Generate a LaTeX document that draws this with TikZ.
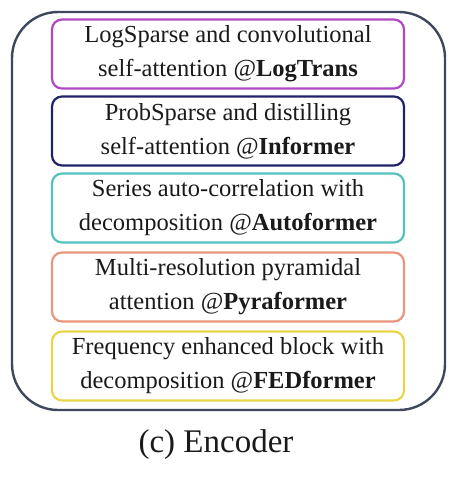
\documentclass[tikz,border=0pt]{standalone}
\usepackage{fontspec}
\setmainfont{Liberation Serif}
\usetikzlibrary{positioning}
\definecolor{outerslate}{HTML}{3E475C}
\definecolor{logmag}{HTML}{B048C4}
\definecolor{infnavy}{HTML}{22226A}
\definecolor{autoteal}{HTML}{52C2C0}
\definecolor{pyrasalmon}{HTML}{E8957C}
\definecolor{fedyellow}{HTML}{EAD548}
\definecolor{inkdark}{HTML}{1A1A1A}

\tikzset{
  block/.style={draw, line width=2.2pt, rounded corners=10pt, minimum width=352pt,
    minimum height=69pt, align=center, text=inkdark, font=\fontsize{24.5}{34}\selectfont,
    inner sep=0pt},
}

\begin{document}
\begin{tikzpicture}[x=1pt, y=-1pt]

% Frame
\useasboundingbox (0,0) rectangle (454,480);

% Outer encoder box
\draw[outerslate, line width=2.4pt, rounded corners=46pt] (12,12) rectangle (445,410);

% Encoder blocks
\node[block, draw=logmag] (logtrans) at (228,54)
  {LogSparse and convolutional\\ self-attention @\textbf{LogTrans}};
\node[block, draw=infnavy] (informer) at (228,131)
  {ProbSparse and distilling\\ self-attention @\textbf{Informer}};
\node[block, draw=autoteal] (autoformer) at (228,208)
  {Series auto-correlation with\\ decomposition @\textbf{Autoformer}};
\node[block, draw=pyrasalmon] (pyraformer) at (228,287)
  {Multi-resolution pyramidal\\ attention @\textbf{Pyraformer}};
\node[block, draw=fedyellow] (fedformer) at (228,366)
  {Frequency enhanced block with\\ decomposition @\textbf{FEDformer}};

% Caption
\node[text=inkdark, font=\fontsize{33}{36}\selectfont] (caption) at (216,445) {(c) Encoder};

\end{tikzpicture}
\end{document}
